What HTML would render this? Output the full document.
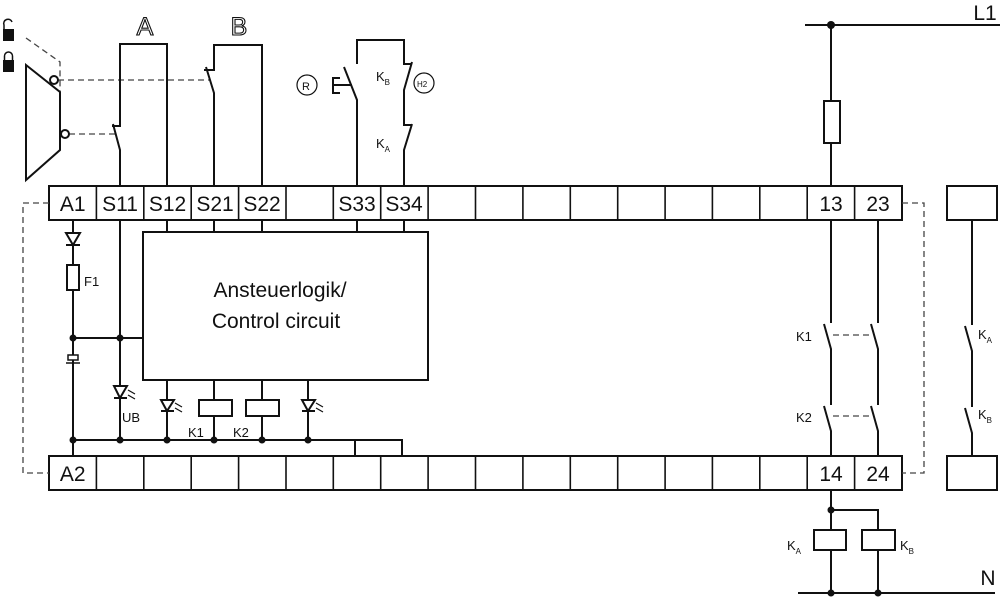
<!DOCTYPE html>
<html><head><style>body{margin:0;background:#fff}svg{display:block}text{font-family:"Liberation Sans",sans-serif;fill:#111}</style></head><body>
<svg width="1000" height="599" viewBox="0 0 1000 599" xmlns="http://www.w3.org/2000/svg">
<g stroke="#111" stroke-width="2" fill="none">
<!-- L1 -->
<line x1="805" y1="25" x2="1000" y2="25"/>
<line x1="831" y1="25" x2="831" y2="186"/>
<rect x="824" y="101" width="16" height="42" fill="#fff"/>
<!-- strips -->
<rect x="49" y="186" width="853" height="34"/>
<rect x="49" y="456" width="853" height="34"/>
<rect x="947" y="186" width="50" height="34"/>
<rect x="947" y="456" width="50" height="34"/>
<g stroke-width="1.6">
<path d="M96.4 186v34M143.8 186v34M191.2 186v34M238.6 186v34M286 186v34M333.3 186v34M380.7 186v34M428.1 186v34M475.5 186v34M522.9 186v34M570.3 186v34M617.7 186v34M665.1 186v34M712.4 186v34M759.8 186v34M807.2 186v34M854.6 186v34"/>
<path d="M96.4 456v34M143.8 456v34M191.2 456v34M238.6 456v34M286 456v34M333.3 456v34M380.7 456v34M428.1 456v34M475.5 456v34M522.9 456v34M570.3 456v34M617.7 456v34M665.1 456v34M712.4 456v34M759.8 456v34M807.2 456v34M854.6 456v34"/>
</g>
<!-- dashed frame -->
<g stroke-width="1.3" stroke-dasharray="6,4" stroke="#444">
<path d="M49 203H23V473H49"/>
<path d="M902 203H924V473H902"/>
<path d="M26 38L60 62V92"/>
<path d="M58 80H210"/>
<path d="M69 134H115"/>
<path d="M833 335H873"/>
<path d="M833 416H873"/>
</g>
<!-- lock mechanism -->
<path d="M26 65L60 92V150L26 180Z"/>
<circle cx="54" cy="80" r="4" fill="#fff"/>
<circle cx="65" cy="134" r="4" fill="#fff"/>
<!-- switch A -->
<path d="M120 186V150L113 124M112 126H120V44H167V186"/>
<!-- switch B -->
<path d="M214 186V93L206 67M204 70H214V45H262V186"/>
<!-- S33/S34 -->
<path d="M357 186V100L344 67M357 64V40H404V64H412M412 62L404 90V125H412M412 124L404 150V186"/>
<path d="M340 78H333V93H340M333 85H352"/>
<circle cx="307" cy="85" r="10" stroke-width="1.2"/>
<circle cx="424" cy="83" r="10" stroke-width="1.2"/>
<!-- control block -->
<rect x="143" y="232" width="285" height="148"/>
<path d="M167 220V232M214 220V232M262 220V232M357 220V232M404 220V232"/>
<!-- A1 line -->
<path d="M73 220V456"/>
<path d="M66 233H80L73 245Z" fill="#fff"/><path d="M66 245H80"/>
<rect x="67" y="265" width="12" height="25" fill="#fff"/>
<path d="M73 338H143"/>
<rect x="68" y="355" width="10" height="5" fill="#fff" stroke-width="1.5"/><path d="M66 363H80" stroke-width="1.5"/>
<!-- UB -->
<path d="M120 220V440"/>
<path d="M114 386H127L120 398Z" fill="#fff"/><path d="M114 398H127"/>
<path d="M128 390l7 4M128 395l7 4" stroke-width="1.2"/>
<!-- bottom bus -->
<path d="M73 440H402V456M355 440V456"/>
<path d="M167 380V440M214 380V400M214 416V440M262 380V400M262 416V440M308 380V440"/>
<path d="M161 400H174L167 411Z" fill="#fff"/><path d="M161 411H174"/>
<path d="M175 403l7 4M175 408l7 4" stroke-width="1.2"/>
<path d="M302 400H315L308 411Z" fill="#fff"/><path d="M302 411H315"/>
<path d="M316 403l7 4M316 408l7 4" stroke-width="1.2"/>
<rect x="199" y="400" width="33" height="16" fill="#fff"/>
<rect x="246" y="400" width="33" height="16" fill="#fff"/>
<!-- right contacts -->
<path d="M831 220V323M824 324L831 349V405M824 406L831 431V456"/>
<path d="M878 220V323M871 324L878 349V405M871 406L878 431V456"/>
<path d="M972 220V325M965 326L972 351V407M965 408L972 433V456"/>
<!-- bottom coils -->
<path d="M831 490V593M831 510H878V593M798 593H995"/>
<rect x="814" y="530" width="32" height="20" fill="#fff"/>
<rect x="862" y="530" width="33" height="20" fill="#fff"/>
</g>
<g fill="#111">
<circle cx="831" cy="25" r="4"/>
<circle cx="73" cy="338" r="3.5"/><circle cx="120" cy="338" r="3.5"/>
<circle cx="73" cy="440" r="3.5"/><circle cx="120" cy="440" r="3.5"/><circle cx="167" cy="440" r="3.5"/><circle cx="214" cy="440" r="3.5"/><circle cx="262" cy="440" r="3.5"/><circle cx="308" cy="440" r="3.5"/>
<circle cx="831" cy="510" r="3.5"/><circle cx="831" cy="593" r="3.5"/><circle cx="878" cy="593" r="3.5"/>
<!-- padlocks -->
<rect x="3" y="29" width="11" height="12"/><path d="M4 29v-4a4 4 0 0 1 8 -3" stroke="#111" stroke-width="1.5" fill="none"/>
<rect x="3" y="60" width="11" height="12"/><path d="M4.5 60v-4a4 4 0 0 1 8 0v4" stroke="#111" stroke-width="1.5" fill="none"/>
</g>
<g font-size="21" text-anchor="middle">
<text x="72.7" y="211">A1</text><text x="120" y="211">S11</text><text x="167.5" y="211">S12</text><text x="215" y="211">S21</text><text x="262" y="211">S22</text><text x="357" y="211">S33</text><text x="404" y="211">S34</text><text x="831" y="211">13</text><text x="878" y="211">23</text>
<text x="72.7" y="481">A2</text><text x="831" y="481">14</text><text x="878" y="481">24</text>
<text x="985" y="20">L1</text><text x="988" y="585">N</text>
<text x="145" y="35" font-size="25" style="fill:#fff" stroke="#111" stroke-width="1.1">A</text>
<text x="239" y="35" font-size="25" style="fill:#fff" stroke="#111" stroke-width="1.1">B</text>
<text x="280" y="297">Ansteuerlogik/</text>
<text x="276" y="328">Control circuit</text>
</g>
<g font-size="13">
<text x="84" y="286">F1</text><text x="122" y="422">UB</text><text x="188" y="437">K1</text><text x="233" y="437">K2</text>
<text x="796" y="341">K1</text><text x="796" y="422">K2</text>
<text x="376" y="81">K<tspan font-size="8" dy="4">B</tspan></text>
<text x="376" y="148">K<tspan font-size="8" dy="4">A</tspan></text>
<text x="978" y="339">K<tspan font-size="8" dy="4">A</tspan></text>
<text x="978" y="419">K<tspan font-size="8" dy="4">B</tspan></text>
<text x="787" y="550">K<tspan font-size="8" dy="4">A</tspan></text>
<text x="900" y="550">K<tspan font-size="8" dy="4">B</tspan></text>
<text x="302" y="90" font-size="11">R</text><text x="417" y="87" font-size="8">H2</text>
</g>
</svg>
</body></html>
